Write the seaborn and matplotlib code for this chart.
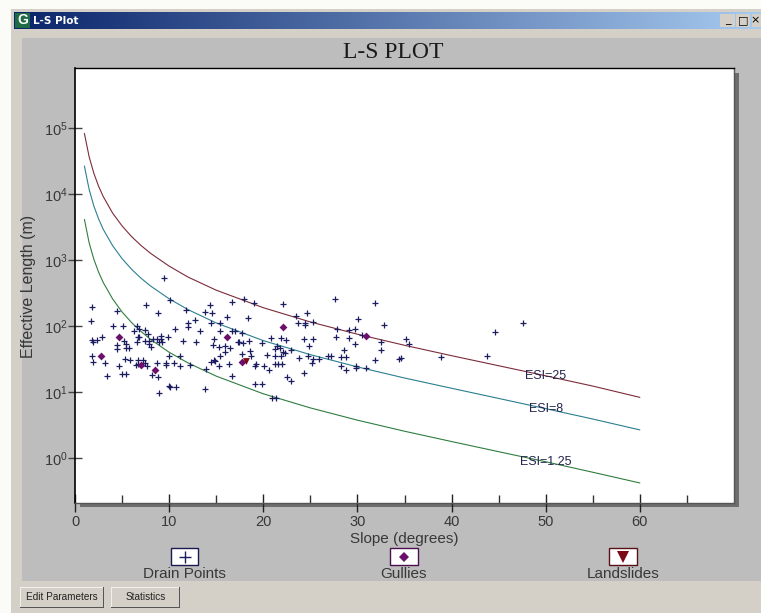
import numpy as np
import pandas as pd
import seaborn as sns
import matplotlib.pyplot as plt
from matplotlib.colors import LinearSegmentedColormap
from matplotlib.lines import Line2D
from matplotlib.patches import Rectangle
from matplotlib.ticker import LogFormatterMathtext, NullLocator

# ESI threshold curves
curve_slope = [1, 1.5, 2, 2.5, 3, 4, 5, 6, 7, 8, 10, 12, 15, 20, 25, 30, 35, 40, 45, 50, 55, 60]
esi_25 = [82000, 36500, 20500, 13100, 9100, 5100, 3270, 2260, 1660, 1265, 805, 550, 348, 189, 115, 75, 51, 35.5, 25, 17.6, 12.3, 8.3]
esi_8 = [26300, 11700, 6560, 4200, 2900, 1640, 1045, 724, 530, 405, 258, 177, 111, 60, 36.8, 24, 16.3, 11.4, 8, 5.6, 3.9, 2.67]
esi_125 = [4100, 1820, 1025, 656, 455, 256, 163, 113, 83, 63, 40, 27.6, 17.4, 9.4, 5.75, 3.75, 2.55, 1.78, 1.25, 0.88, 0.61, 0.42]

# Drain points: slope in degrees, log10 of effective length
drain_slope = [
    9.43, 10.07, 7.53, 8.80, 1.84, 4.42, 1.66, 4.03, 5.12, 6.61, 6.25, 6.75, 7.42, 7.77, 6.82, 6.68, 9.15, 9.15, 9.89, 8.66,
    8.30, 7.46, 7.88, 7.88, 8.02, 6.61, 8.94, 9.22, 5.19, 5.37, 4.49, 4.49, 5.37, 5.69, 2.90, 1.84, 2.37, 1.94, 1.84, 1.94,
    3.22, 4.66, 5.27, 5.83, 6.71, 7.24, 6.71, 7.42, 6.47, 7.67, 8.73, 9.65, 9.65, 10.49, 11.20, 12.26, 10.00, 11.20, 3.39, 4.98,
    5.37, 8.13, 8.83, 9.96, 10.11, 10.71, 8.94, 13.85, 13.96, 14.49, 14.74, 14.88, 15.34, 16.36, 16.64, 15.44, 15.34, 14.63, 15.97, 16.43,
    15.97, 14.77, 17.31, 12.83, 11.52, 13.25, 10.67, 12.01, 12.01, 12.72, 14.42, 15.37, 15.41, 16.68, 16.96, 16.15, 13.85, 14.59, 14.38, 11.84,
    16.71, 17.99, 19.02, 22.09, 18.38, 23.44, 24.60, 23.65, 24.46, 24.46, 25.27, 27.64, 31.85, 30.11, 32.87, 27.82, 29.09, 29.69, 30.47, 27.68,
    29.09, 29.69, 24.28, 25.27, 24.85, 20.86, 21.88, 22.45, 17.75, 17.39, 17.82, 18.49, 19.83, 21.49, 21.74, 21.28, 22.94, 22.09, 22.27, 18.56,
    17.71, 18.70, 20.43, 21.28, 21.88, 23.83, 24.71, 25.24, 25.20, 25.91, 26.83, 27.18, 28.21, 28.81, 28.60, 32.52, 32.48, 35.17, 35.45, 31.88,
    34.39, 34.64, 28.21, 29.90, 29.90, 30.86, 28.81, 19.20, 19.13, 20.04, 20.57, 21.28, 21.60, 21.99, 22.52, 22.94, 24.36, 19.13, 19.87, 20.96,
    21.39, 38.88, 43.72, 44.64, 47.60,
]
drain_log_length = [
    2.72, 2.39, 2.32, 2.19, 2.28, 2.22, 2.07, 2.00, 2.00, 2.00, 1.92, 1.96, 1.94, 1.88, 1.84, 1.83, 1.85, 1.80, 1.83, 1.80,
    1.80, 1.77, 1.77, 1.73, 1.68, 1.76, 1.75, 1.76, 1.77, 1.73, 1.71, 1.65, 1.67, 1.67, 1.84, 1.79, 1.78, 1.76, 1.54, 1.46,
    1.44, 1.39, 1.50, 1.49, 1.49, 1.49, 1.43, 1.44, 1.41, 1.40, 1.44, 1.44, 1.41, 1.44, 1.40, 1.41, 1.55, 1.54, 1.24, 1.28,
    1.28, 1.26, 1.23, 1.09, 1.07, 1.07, 0.98, 1.04, 1.35, 1.46, 1.49, 1.47, 1.40, 1.43, 1.24, 1.54, 1.68, 1.71, 1.69, 1.66,
    1.60, 1.80, 1.75, 1.76, 1.77, 1.93, 1.96, 2.04, 1.99, 2.09, 2.04, 2.05, 1.93, 1.92, 1.92, 2.13, 2.21, 2.20, 2.31, 2.24,
    2.37, 2.41, 2.35, 2.33, 2.12, 2.15, 2.19, 2.05, 2.05, 2.02, 2.06, 2.41, 2.35, 2.11, 2.02, 1.95, 1.94, 1.96, 1.86, 1.83,
    1.82, 1.73, 1.80, 1.80, 1.70, 1.82, 1.82, 1.79, 1.89, 1.76, 1.74, 1.77, 1.74, 1.70, 1.66, 1.65, 1.63, 1.60, 1.59, 1.62,
    1.58, 1.55, 1.56, 1.54, 1.54, 1.52, 1.54, 1.50, 1.44, 1.50, 1.54, 1.54, 1.53, 1.53, 1.64, 1.75, 1.63, 1.80, 1.73, 1.48,
    1.50, 1.51, 1.40, 1.40, 1.37, 1.37, 1.33, 1.43, 1.39, 1.39, 1.33, 1.42, 1.42, 1.42, 1.22, 1.17, 1.29, 1.12, 1.12, 0.91,
    0.91, 1.53, 1.55, 1.91, 2.05,
]

gully_slope = [4.66, 2.79, 7.00, 8.45, 16.15, 22.13, 30.96, 17.75]
gully_log_length = [1.83, 1.55, 1.41, 1.34, 1.84, 1.98, 1.85, 1.45]

landslide_slope = [18.14]
landslide_log_length = [1.47]

x_major = [0, 10, 20, 30, 40, 50, 60]
x_minor = [5, 15, 25, 35, 45, 55, 65]
y_major = [1, 10, 100, 1000, 10000, 100000]

legend_names = ['Drain Points', 'Gullies', 'Landslides']

sns.set_style("white")
plt.rcParams['font.family'] = ['Liberation Sans', 'DejaVu Sans']
plt.rcParams['mathtext.default'] = 'regular'

W, H = 761, 613
PANEL = '#bdbdbd'
DIALOG = '#d4d0c8'
TEXT = '#383838'
DRAIN = '#1c1c60'
GULLY = '#6b0f6b'
SLIDE = '#7a0a14'


def fx(x):
    return x / W


def fy(y):
    return 1 - y / H


def box(x0, y0, x1, y1, color, z=-5, edge='none', lw=0):
    # rectangle given in picture pixels, y down
    r = Rectangle((fx(x0), fy(y1)), (x1 - x0) / W, (y1 - y0) / H, transform=fig.transFigure,
                  facecolor=color, edgecolor=edge, linewidth=lw, zorder=z)
    fig.add_artist(r)


def label(x, y, s, **kw):
    kw.setdefault('ha', 'center')
    kw.setdefault('va', 'center')
    kw.setdefault('color', TEXT)
    fig.text(fx(x), fy(y), s, **kw)


fig = plt.figure(figsize=(W / 100, H / 100), dpi=100, facecolor='#fbfbf8')

# window chrome
box(11, 9, W, H, DIALOG, z=-6)
box(22, 38, W, 581, PANEL)
box(80, 73, 739, 507, '#6e6e6e', z=-4)

bar = fig.add_axes([fx(14), fy(29), (W - 14) / W, 17 / H], zorder=1)
bar_cmap = LinearSegmentedColormap.from_list('bar', ['#0a246a', '#a6caf0'])
bar.imshow([np.linspace(0, 1, 256)], aspect='auto', cmap=bar_cmap)
bar.axis('off')
box(15, 13, 30, 28, '#1f6b45', z=2)
label(22.5, 20.5, 'G', color='white', fontsize=10, fontweight='bold', zorder=3)
label(33, 20.5, 'L-S Plot', ha='left', color='white', fontsize=7.5, fontweight='bold',
      family='DejaVu Sans', zorder=3)

for x0, x1, cx, sym in [(720, 735, 727.5, '_'), (736, 750, 743, '□'), (752, 761, 755.5, '×')]:
    box(x0, 14, x1, 27, DIALOG, z=2)
    label(cx, 20, sym, color='black', fontsize=8, family='DejaVu Sans', zorder=3)

# plot area
ax = fig.add_axes([fx(75), fy(503), (734 - 75) / W, (503 - 68) / H], facecolor='white', zorder=2)

for values, color in [(esi_25, '#7c2c3a'), (esi_8, '#2b7f90'), (esi_125, '#2f7d3f')]:
    curve = pd.DataFrame({'slope': curve_slope, 'length': values})
    sns.lineplot(data=curve, x='slope', y='length', color=color, linewidth=0.8, errorbar=None, ax=ax)

drain = pd.DataFrame({'slope': drain_slope, 'length': np.power(10.0, drain_log_length)})
gully = pd.DataFrame({'slope': gully_slope, 'length': np.power(10.0, gully_log_length)})
slide = pd.DataFrame({'slope': landslide_slope, 'length': np.power(10.0, landslide_log_length)})

sns.scatterplot(data=drain, x='slope', y='length', marker='+', s=24, color=DRAIN, linewidth=0.9, ax=ax, zorder=3)
sns.scatterplot(data=gully, x='slope', y='length', marker='D', s=16, color=GULLY, linewidth=0, ax=ax, zorder=4)
sns.scatterplot(data=slide, x='slope', y='length', marker='v', s=24, color=SLIDE, linewidth=0, ax=ax, zorder=4)

ax.set_yscale('log')
ax.set_xlim(0, 70)
ax.set_ylim(10 ** -0.68, 10 ** 5.905)

ax.set_xticks(x_major)
ax.set_xticks(x_minor, minor=True)
ax.set_yticks(y_major)
ax.yaxis.set_minor_locator(NullLocator())
ax.yaxis.set_major_formatter(LogFormatterMathtext())
ax.tick_params(axis='x', which='major', direction='inout', length=13, width=1, color='#222222',
               labelsize=10.5, labelcolor=TEXT, pad=2, bottom=True)
ax.tick_params(axis='x', which='minor', direction='in', length=6, width=1, color='#333333', bottom=True)
ax.tick_params(axis='y', which='major', direction='inout', length=10, width=1, color='#444444',
               labelsize=10.5, labelcolor=TEXT, pad=0.5, left=True)
ax.set_xlabel('')
ax.set_ylabel('')

for side, c, lw in [('left', 'black', 1.2), ('top', 'black', 1.0), ('right', '#555555', 1.0), ('bottom', '#555555', 1.0)]:
    ax.spines[side].set_visible(True)
    ax.spines[side].set_color(c)
    ax.spines[side].set_linewidth(lw)

# curve labels sit on the curves at 50 degrees
ax.text(50, esi_25[19], 'ESI=25', ha='center', va='center', fontsize=9, color='#24244e', zorder=5)
ax.text(50, esi_8[19], 'ESI=8', ha='center', va='center', fontsize=9, color='#24244e', zorder=5)
ax.text(50, esi_125[19], 'ESI=1.25', ha='center', va='center', fontsize=9, color='#24244e', zorder=5)

label(393, 53, 'L-S PLOT', family='Liberation Serif', fontsize=17, color='#1a1a1a')
label(404, 539, 'Slope (degrees)', fontsize=11)
label(29, 286, 'Effective Length (m)', rotation=90, fontsize=11.5)

# legend keys
keys = [(184.5, '+', DRAIN, '#1a1a50', 9), (404, 'D', GULLY, '#4a1050', 5.5), (623, 'v', SLIDE, '#5a1018', 8)]
for name, (cx, mark, col, edge, size) in zip(legend_names, keys):
    box(cx - 13, 549, cx + 14.5, 566, '#555555', z=3)
    box(cx - 14, 548, cx + 13.5, 564.5, 'white', z=4, edge=edge, lw=1)
    fig.add_artist(Line2D([fx(cx)], [fy(556.5)], marker=mark, markersize=size, color=col, markeredgewidth=1 if mark == '+' else 0,
                          linestyle='none', transform=fig.transFigure, zorder=5))
    label(cx, 574.5, name, fontsize=11)

# buttons
for x0, x1, name in [(20, 104, 'Edit Parameters'), (111, 180, 'Statistics')]:
    box(x0, 587, x1, 608, '#555555', z=-3)
    box(x0, 587, x1 - 1, 607, '#f2f0ea', z=-2)
    box(x0 + 1, 588, x1 - 1, 607, DIALOG, z=-1)
    label((x0 + x1) / 2, 597.5, name, fontsize=7.2, color='#222222')

fig.savefig('out.png', dpi=100, facecolor=fig.get_facecolor())
